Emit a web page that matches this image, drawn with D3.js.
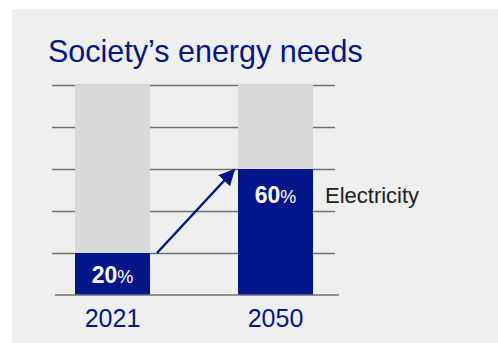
<!DOCTYPE html>
<html><head><meta charset="utf-8">
<script src="https://cdn.jsdelivr.net/npm/d3@7"></script>
<style>html,body{margin:0;padding:0;background:#fff;}svg{display:block;}</style>
</head><body>
<svg id="c" width="498" height="343"></svg>
<script>
const title = "Society\u2019s energy needs";
const categories = ["2021", "2050"];
const electricity = [20, 60];
const total = [100, 100];
const gridTicks = [20, 40, 60, 80, 100];
const seriesLabel = "Electricity";

const svg = d3.select("#c");
const blue = "#00168a";
const font = "Liberation Sans, Arial, sans-serif";
svg.append("rect").attr("x", 12).attr("y", 9).attr("width", 486).attr("height", 334).attr("fill", "#efefef");

svg.append("text").attr("x", 48).attr("y", 62).attr("font-family", font)
  .attr("font-size", 30.5).attr("fill", blue).text(title);

const y = d3.scaleLinear().domain([0, 100]).range([295, 85]);
const x = d3.scaleBand().domain(categories).range([75, 313]).paddingInner(0.54).paddingOuter(0);

// gridlines
svg.append("g").selectAll("line").data(gridTicks).join("line")
  .attr("x1", 52).attr("x2", 335).attr("y1", d => Math.round(y(d)) + 0.5).attr("y2", d => Math.round(y(d)) + 0.5)
  .attr("stroke", "#707070").attr("stroke-width", 1.3);

// total bars
svg.append("g").selectAll("rect").data(categories).join("rect")
  .attr("x", d => x(d)).attr("width", x.bandwidth())
  .attr("y", (d, i) => y(total[i])).attr("height", (d, i) => y(0) - y(total[i]))
  .attr("fill", "#d9d9d9");
// electricity bars
svg.append("g").selectAll("rect").data(categories).join("rect")
  .attr("x", d => x(d)).attr("width", x.bandwidth())
  .attr("y", (d, i) => y(electricity[i])).attr("height", (d, i) => y(0) - y(electricity[i]))
  .attr("fill", blue);

// baseline
svg.append("line").attr("x1", 55).attr("x2", 339).attr("y1", y(0)).attr("y2", y(0))
  .attr("stroke", "#707070").attr("stroke-width", 1.3);

// value labels
const lab = svg.append("g").selectAll("text").data(categories).join("text")
  .attr("x", d => x(d) + x.bandwidth() / 2)
  .attr("y", (d, i) => electricity[i] <= 20 ? y(electricity[i]) + 30 : y(electricity[i]) + 34)
  .attr("text-anchor", "middle").attr("font-family", font)
  .attr("fill", "#fff");
lab.append("tspan").attr("font-size", 23).attr("font-weight", "bold").text((d, i) => electricity[i]);
lab.append("tspan").attr("font-size", 18).text("%");

// category labels
svg.append("g").selectAll("text").data(categories).join("text")
  .attr("x", d => x(d) + x.bandwidth() / 2).attr("y", 327)
  .attr("text-anchor", "middle").attr("font-family", font)
  .attr("font-size", 25).attr("fill", blue).text(d => d);

// series label
svg.append("text").attr("x", 325).attr("y", 203).attr("font-family", font)
  .attr("font-size", 22).attr("fill", "#222").text(seriesLabel);

// arrow
const defs = svg.append("defs");
defs.append("marker").attr("id", "ah").attr("viewBox", "0 0 10 10").attr("refX", 9).attr("refY", 5)
  .attr("markerWidth", 6.5).attr("markerHeight", 6.5).attr("markerUnits", "strokeWidth").attr("orient", "auto")
  .append("path").attr("d", "M0,0 L10,5 L0,10 z").attr("fill", blue);
const x1 = x(categories[0]) + x.bandwidth() + 7, y1 = y(electricity[0]);
const x2 = x(categories[1]) - 4, y2 = y(electricity[1]) + 1;
svg.append("line").attr("x1", x1).attr("y1", y1).attr("x2", x2).attr("y2", y2)
  .attr("stroke", blue).attr("stroke-width", 2.5).attr("marker-end", "url(#ah)");
</script>
</body></html>
